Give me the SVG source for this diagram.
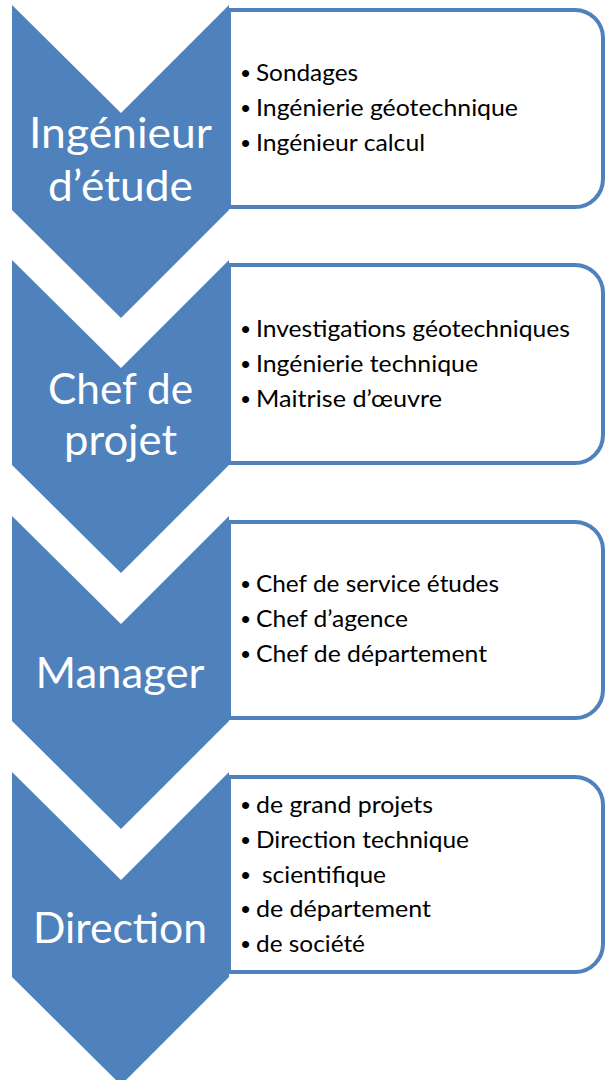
<svg xmlns="http://www.w3.org/2000/svg" width="607" height="1080" viewBox="0 0 607 1080">
<style>
.chev{fill:#4F81BD;}
.box{fill:#FFFFFF;stroke:#4F81BD;stroke-width:4;}
.lbl{font-family:Lato,"Open Sans","Liberation Sans",sans-serif;font-size:42px;fill:#FFFFFF;text-anchor:middle;}
.item{font-family:Lato,"Open Sans","Liberation Sans",sans-serif;font-size:24px;fill:#000000;}
.bul{font-family:"Liberation Sans",Arial,sans-serif;font-size:26px;fill:#000000;}
</style>
<rect width="607" height="1080" fill="#FFFFFF"/>
<g id="connectors"></g>

<g id="node1">
<path class="box" d="M229,10 H575 A28,28 0 0 1 603,38 V179 A28,28 0 0 1 575,207 H229 Z"/>
<polygon class="chev" points="12,5 121,113 229,5 229,210 121,318 12,210"/>
<text class="lbl" x="120.5" y="148" textLength="183" lengthAdjust="spacingAndGlyphs">Ingénieur</text>
<text class="lbl" x="120.5" y="201" textLength="145" lengthAdjust="spacingAndGlyphs">d’étude</text>
<text class="bul" x="241" y="82">•</text><text class="item" x="256" y="81" textLength="102" lengthAdjust="spacingAndGlyphs">Sondages</text>
<text class="bul" x="241" y="117">•</text><text class="item" x="256" y="116" textLength="262" lengthAdjust="spacingAndGlyphs">Ingénierie géotechnique</text>
<text class="bul" x="241" y="152">•</text><text class="item" x="256" y="151" textLength="169" lengthAdjust="spacingAndGlyphs">Ingénieur calcul</text>
</g>

<g id="node2">
<path class="box" d="M229,265 H575 A28,28 0 0 1 603,293 V435 A28,28 0 0 1 575,463 H229 Z"/>
<polygon class="chev" points="12,260 121,368 229,260 229,465 121,573 12,465"/>
<text class="lbl" x="120.5" y="404" textLength="145" lengthAdjust="spacingAndGlyphs">Chef de</text>
<text class="lbl" x="120.5" y="455" textLength="113" lengthAdjust="spacingAndGlyphs">projet</text>
<text class="bul" x="241" y="338">•</text><text class="item" x="256" y="337" textLength="314" lengthAdjust="spacingAndGlyphs">Investigations géotechniques</text>
<text class="bul" x="241" y="373">•</text><text class="item" x="256" y="372" textLength="222" lengthAdjust="spacingAndGlyphs">Ingénierie technique</text>
<text class="bul" x="241" y="408">•</text><text class="item" x="256" y="407" textLength="186" lengthAdjust="spacingAndGlyphs">Maitrise d’œuvre</text>
</g>

<g id="node3">
<path class="box" d="M229,522 H575 A28,28 0 0 1 603,550 V690 A28,28 0 0 1 575,718 H229 Z"/>
<polygon class="chev" points="12,516 121,624 229,516 229,721 121,829 12,721"/>
<text class="lbl" x="120" y="688" textLength="169" lengthAdjust="spacingAndGlyphs">Manager</text>
<text class="bul" x="241" y="593">•</text><text class="item" x="256" y="592" textLength="243" lengthAdjust="spacingAndGlyphs">Chef de service études</text>
<text class="bul" x="241" y="628">•</text><text class="item" x="256" y="627" textLength="152" lengthAdjust="spacingAndGlyphs">Chef d’agence</text>
<text class="bul" x="241" y="663">•</text><text class="item" x="256" y="662" textLength="231" lengthAdjust="spacingAndGlyphs">Chef de département</text>
</g>

<g id="node4">
<path class="box" d="M229,777 H575 A28,28 0 0 1 603,805 V944 A28,28 0 0 1 575,972 H229 Z"/>
<polygon class="chev" points="12,772 121,880 229,772 229,977 121,1085 12,977"/>
<text class="lbl" x="120" y="943" textLength="174" lengthAdjust="spacingAndGlyphs">Direction</text>
<text class="bul" x="241" y="814">•</text><text class="item" x="256" y="813" textLength="177" lengthAdjust="spacingAndGlyphs">de grand projets</text>
<text class="bul" x="241" y="849">•</text><text class="item" x="256" y="848" textLength="213" lengthAdjust="spacingAndGlyphs">Direction technique</text>
<text class="bul" x="241" y="884">•</text><text class="item" x="262" y="883" textLength="124" lengthAdjust="spacingAndGlyphs">scientifique</text>
<text class="bul" x="241" y="918">•</text><text class="item" x="256" y="917" textLength="175" lengthAdjust="spacingAndGlyphs">de département</text>
<text class="bul" x="241" y="953">•</text><text class="item" x="256" y="952" textLength="109" lengthAdjust="spacingAndGlyphs">de société</text>
</g>
</svg>
